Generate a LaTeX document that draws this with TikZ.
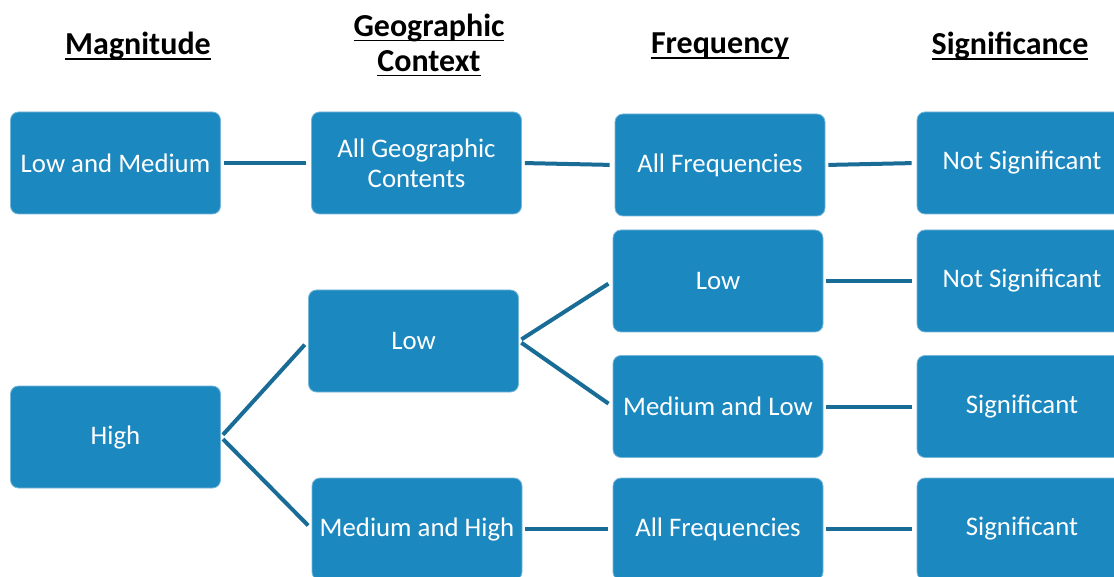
\documentclass[tikz,border=0pt]{standalone}
\usepackage{fontspec}
\setmainfont{Carlito}
\usepackage{xcolor}
\usepackage{tikz}
\usetikzlibrary{calc}

\definecolor{boxblue}{RGB}{28,136,192}
\definecolor{lineblue}{RGB}{24,108,150}
\newcommand{\hdline}[1]{\setbox0\hbox{#1}\rlap{\rule[-2.6pt]{\wd0}{0.9pt}}\box0}

\begin{document}
\begin{tikzpicture}[x=0.5pt,y=-0.5pt,
    box/.style={draw=boxblue!60!white,line width=0.4pt,fill=boxblue,rounded corners=4pt,
      text=white,minimum width=105pt,minimum height=51pt,inner sep=2pt,align=center,
      font=\fontsize{13.4}{15}\selectfont},
    head/.style={align=center,font=\fontsize{16}{17.5}\selectfont\bfseries},
    link/.style={draw=lineblue,line width=2pt,shorten <=1.5pt,shorten >=2.5pt}]
      \useasboundingbox (0,0) rectangle (1114,577);

      % column titles
      \node[head] (hM) at (138,46) {\hdline{Magnitude}};
      \node[head] (hG) at (429,45) {\hdline{Geographic}\\\hdline{Context}};
      \node[head] (hF) at (720,46) {\hdline{Frequency}};
      \node[head] (hS) at (1010,46) {\hdline{Significance}};

      % magnitude
      \node[box] (M1) at (115.5,163) {Low and Medium};
      \node[box] (M2) at (115.5,437) {High};

      % geographic context
      \node[box] (G1) at (416.5,163) {All Geographic\\Contents};
      \node[box] (G2) at (413.5,341) {Low};
      \node[box] (G3) at (417,529) {Medium and High};

      % frequency
      \node[box] (F1) at (720,165) {All Frequencies};
      \node[box] (F2) at (718,281) {Low};
      \node[box] (F3) at (718,406.5) {Medium and Low};
      \node[box] (F4) at (718,529) {All Frequencies};

      % significance
      \node[box] (S1) at (1022,163) {Not Significant};
      \node[box] (S2) at (1022,281) {Not Significant};
      \node[box] (S3) at (1022,406.5) {Significant};
      \node[box] (S4) at (1022,529) {Significant};

      \draw[link] (M1.east) -- (G1.west);
      \draw[link] (G1.east) -- (F1.west);
      \draw[link] (F1.east) -- (S1.west);
      \draw[link] (M2.east) -- (G2.west);
      \draw[link] (M2.east) -- (G3.west);
      \draw[link] (G2.east) -- (F2.west);
      \draw[link] (G2.east) -- (F3.west);
      \draw[link] (G3.east) -- (F4.west);
      \draw[link] (F2.east) -- (S2.west);
      \draw[link] (F3.east) -- (S3.west);
      \draw[link] (F4.east) -- (S4.west);
    \end{tikzpicture}
\end{document}
